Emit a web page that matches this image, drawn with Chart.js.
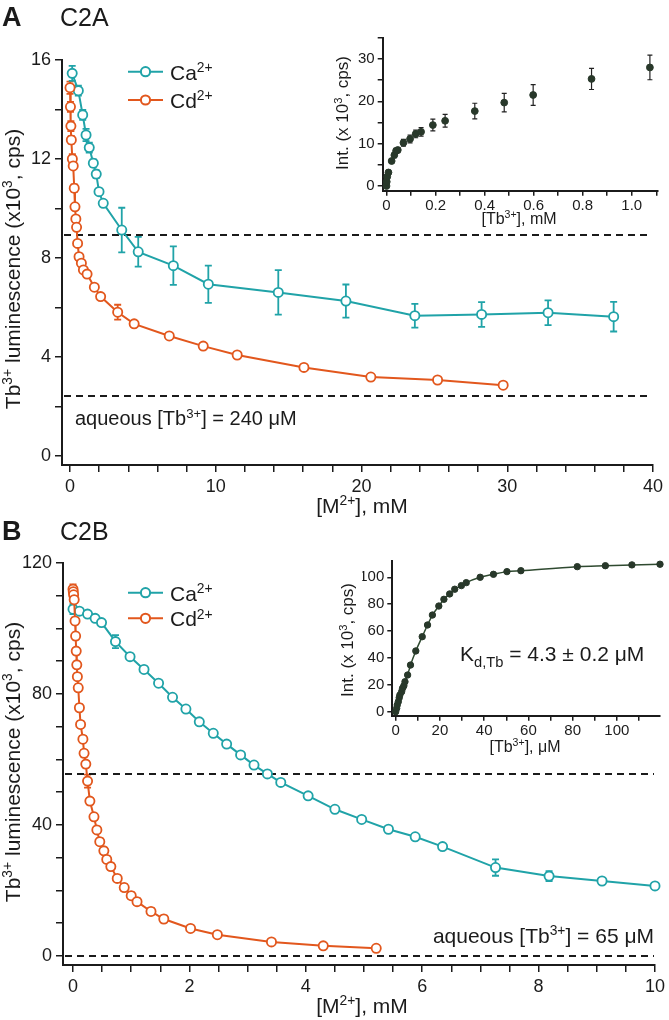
<!DOCTYPE html>
<html><head><meta charset="utf-8">
<script src="https://cdn.jsdelivr.net/npm/chart.js@4.4.1/dist/chart.umd.min.js"></script>
<style>
html,body{margin:0;padding:0;background:#fff;}
#wrap{position:relative;width:669px;height:1020px;overflow:hidden;background:#fff;}
canvas{position:absolute;}
</style></head><body>
<div id="wrap">
<canvas id="mainA" width="669" height="530" style="left:0;top:0"></canvas>
<canvas id="mainB" width="669" height="510" style="left:0;top:510px"></canvas>
<canvas id="insA" width="335" height="195" style="left:330px;top:25px"></canvas>
<canvas id="insB" width="325" height="200" style="left:340px;top:545px"></canvas>
</div>
<script>
// ---------------- DATA ----------------
// Panel A (C2A) main
const caA_x = [0.15, 0.57, 0.87, 1.10, 1.32, 1.60, 1.80, 1.99, 2.28, 3.55, 4.68, 7.09, 9.49, 14.29, 18.93, 23.66, 28.24, 32.8, 37.3];
const caA_y = [15.46, 14.76, 13.78, 12.97, 12.46, 11.83, 11.39, 10.68, 10.21, 9.13, 8.25, 7.69, 6.94, 6.61, 6.26, 5.67, 5.72, 5.79, 5.63];
const caA_err = [0.3, 0.2, 0.2, 0.25, 0.2, 0.15, 0.15, 0.1, 0.1, 0.9, 0.6, 0.78, 0.75, 0.9, 0.67, 0.48, 0.5, 0.5, 0.6];
const cdA_x = [0.0, 0.03, 0.06, 0.09, 0.16, 0.22, 0.29, 0.34, 0.40, 0.45, 0.52, 0.62, 0.78, 0.92, 1.17, 1.67, 2.10, 3.27, 4.40, 6.81, 9.14, 11.47, 16.05, 20.64, 25.22, 29.72];
const cdA_y = [14.88, 14.11, 13.33, 12.77, 12.0, 11.72, 10.82, 10.07, 9.58, 9.24, 8.59, 8.05, 7.79, 7.52, 7.35, 6.82, 6.44, 5.81, 5.34, 4.85, 4.44, 4.08, 3.58, 3.19, 3.07, 2.86];
const cdA_err = [0.25, 0.2, 0.2, 0.15, 0.2, 0.1, 0.15, 0.1, 0.1, 0.1, 0.1, 0.1, 0.1, 0.1, 0.1, 0.1, 0.1, 0.3, 0.1, 0.05, 0.05, 0.05, 0.05, 0.05, 0.05, 0.05];
const dashA = [8.93, 2.44];
// Panel A inset
const tbA_x = [0, 0.001, 0.003, 0.008, 0.021, 0.032, 0.039, 0.046, 0.069, 0.096, 0.119, 0.141, 0.189, 0.239, 0.36, 0.48, 0.598, 0.836, 1.074];
const tbA_y = [0, 1.0, 2.2, 3.2, 5.9, 7.3, 8.3, 8.5, 10.2, 11.1, 12.3, 12.8, 14.4, 15.4, 17.7, 19.7, 21.5, 25.3, 28.0];
const tbA_err = [0.3, 0.3, 0.3, 0.4, 0.5, 0.6, 0.6, 0.6, 0.8, 0.9, 0.9, 1.0, 1.4, 1.5, 1.85, 2.2, 2.45, 2.5, 2.9];
// Panel B (C2B) main
const caB_x = [0.0, 0.11, 0.25, 0.38, 0.49, 0.73, 0.98, 1.22, 1.47, 1.71, 1.94, 2.17, 2.41, 2.64, 2.88, 3.11, 3.34, 3.57, 4.04, 4.50, 4.96, 5.42, 5.88, 6.35, 7.26, 8.18, 9.09, 10.0];
const caB_y = [105.9, 105.3, 104.4, 103.1, 101.8, 96.0, 91.4, 87.5, 83.3, 79.0, 75.4, 71.5, 68.0, 64.7, 61.4, 58.3, 55.6, 53.0, 48.9, 44.8, 41.7, 38.7, 36.4, 33.4, 27.0, 24.4, 22.9, 21.4];
const caB_err = [1.5, 0.5, 0.5, 0.5, 0.5, 2.0, 0.5, 0.5, 0.5, 0.5, 0.5, 0.5, 0.5, 0.5, 0.5, 0.5, 0.5, 0.5, 0.5, 0.5, 0.5, 0.5, 0.5, 0.5, 2.5, 1.5, 0.5, 0.5];
const cdB_x = [0.0, 0.005, 0.01, 0.02, 0.035, 0.045, 0.055, 0.065, 0.075, 0.09, 0.11, 0.13, 0.17, 0.19, 0.22, 0.25, 0.29, 0.36, 0.41, 0.46, 0.53, 0.58, 0.65, 0.76, 0.88, 1.0, 1.10, 1.34, 1.56, 2.02, 2.48, 3.41, 4.30, 5.21];
const cdB_y = [112.0, 111.2, 110.3, 108.8, 102.3, 97.7, 93.1, 88.9, 85.3, 81.9, 75.8, 70.7, 66.2, 61.9, 58.6, 53.4, 47.3, 42.5, 38.5, 34.9, 32.1, 29.5, 27.3, 23.7, 20.9, 18.4, 16.6, 13.6, 11.3, 8.4, 6.5, 4.3, 3.1, 2.35];
const cdB_err = [1.5, 1, 1, 1, 1, 1, 1, 1, 1, 1, 1, 1, 1, 1, 1, 2, 1, 1, 1, 1, 1, 1, 1, 1, 1, 1, 1, 1, 1, 0.5, 0.5, 0.5, 0.5, 0.5];
const dashB = [55.6, 0];
// Panel B inset
const tbB_x = [0, 0.45, 0.7, 1.2, 1.6, 1.9, 2.7, 3.1, 3.7, 4.2, 5.4, 6.7, 9.1, 12.0, 14.4, 16.6, 19.5, 21.8, 24.4, 26.7, 29.7, 31.9, 38.2, 44.2, 50.3, 56.6, 82.1, 94.8, 106.8, 119.5];
const tbB_y = [0, 2.5, 5, 7.5, 10.4, 12.4, 14.9, 17.4, 19.3, 22.3, 27.3, 34.7, 45.2, 55.8, 64.5, 71.9, 78.6, 83.6, 87.6, 91.1, 93.8, 96.0, 100, 102.2, 104.2, 104.9, 107.9, 108.6, 109.2, 109.7];

// Tick values and labelled ticks
const ticksA_x = [0,2,4,6,8,10,12,14,16,18,20,22,24,26,28,30,32,34,36,38,40];
const labelsA_x = [0,10,20,30,40];
const ticksA_y = [0,2,4,6,8,10,12,14,16];
const labelsA_y = [0,4,8,12,16];
const ticksB_x = [0,0.5,1,1.5,2,2.5,3,3.5,4,4.5,5,5.5,6,6.5,7,7.5,8,8.5,9,9.5,10];
const labelsB_x = [0,2,4,6,8,10];
const ticksB_y = [0,10,20,30,40,50,60,70,80,90,100,110,120];
const labelsB_y = [0,40,80,120];
const ticksIA_x = [0,0.1,0.2,0.3,0.4,0.5,0.6,0.7,0.8,0.9,1.0,1.1];
const labelsIA_x = [0,0.2,0.4,0.6,0.8,1.0];
const ticksIA_y = [0,5,10,15,20,25,30,35];
const labelsIA_y = [0,10,20,30];
const ticksIB_x = [0,10,20,30,40,50,60,70,80,90,100,110];
const labelsIB_x = [0,20,40,60,80,100];
const ticksIB_y = [0,20,40,60,80,100];
const labelsIB_y = [0,20,40,60,80,100];

// ---------------- STYLE ----------------
const FONT = '"Liberation Sans", Arial, Helvetica, sans-serif';
const TEAL = '#20a3a8';
const ORANGE = '#e2571d';
const INK = '#1b1b1b';
const DOT = '#28382a';

function pts(xs, ys) { return xs.map((x, i) => ({x: x, y: ys[i]})); }

function drawRich(ctx, x, y, parts, size, align, rot, bold, color) {
  ctx.save();
  ctx.translate(x, y);
  if (rot) ctx.rotate(rot);
  ctx.fillStyle = color || INK;
  ctx.textBaseline = 'alphabetic';
  ctx.textAlign = 'left';
  const segs = parts.map(p => {
    const t = p[0], m = p[1] || '';
    const fs = m === 'sup' ? size * 0.66 : (m === 'sub' ? size * 0.7 : size);
    return {t, m, fs};
  });
  let total = 0;
  segs.forEach(s => { ctx.font = (bold ? 'bold ' : '') + s.fs + 'px ' + FONT; s.w = ctx.measureText(s.t).width; total += s.w; });
  let cx = align === 'center' ? -total / 2 : (align === 'right' ? -total : 0);
  segs.forEach(s => {
    ctx.font = (bold ? 'bold ' : '') + s.fs + 'px ' + FONT;
    const dy = s.m === 'sup' ? -size * 0.37 : (s.m === 'sub' ? size * 0.27 : 0);
    ctx.fillText(s.t, cx, dy);
    cx += s.w;
  });
  ctx.restore();
}

const errPlugin = {
  id: 'errbars',
  beforeDatasetsDraw(chart) {
    const ctx = chart.ctx, xs = chart.scales.x, ys = chart.scales.y;
    chart.data.datasets.forEach(ds => {
      if (!ds.errs) return;
      ctx.save();
      ctx.strokeStyle = ds.errColor || ds.borderColor;
      ctx.lineWidth = ds.errWidth || 1.5;
      const c = ds.capW || 3;
      ds.data.forEach((p, j) => {
        const e = ds.errs[j]; if (!e) return;
        const px = xs.getPixelForValue(p.x);
        const y1 = ys.getPixelForValue(p.y + e), y2 = ys.getPixelForValue(p.y - e);
        ctx.beginPath();
        ctx.moveTo(px, y1); ctx.lineTo(px, y2);
        ctx.moveTo(px - c, y1); ctx.lineTo(px + c, y1);
        ctx.moveTo(px - c, y2); ctx.lineTo(px + c, y2);
        ctx.stroke();
      });
      ctx.restore();
    });
  }
};

const decorPlugin = {
  id: 'decor',
  beforeDatasetsDraw(chart, args, o) {
    if (!o.dashes) return;
    const ctx = chart.ctx, ys = chart.scales.y, ca = chart.chartArea;
    ctx.save();
    ctx.strokeStyle = INK; ctx.lineWidth = 2; ctx.setLineDash([7, 5]);
    o.dashes.forEach(v => {
      const py = Math.round(ys.getPixelForValue(v));
      ctx.beginPath(); ctx.moveTo(ca.left + 2, py); ctx.lineTo(ca.right - 1, py); ctx.stroke();
    });
    ctx.restore();
  },
  afterDraw(chart, args, o) {
    const ctx = chart.ctx, oy = o.oy || 0, ox = o.ox || 0;
    (o.legend || []).forEach(l => {
      const y = l.y - oy;
      ctx.save();
      ctx.strokeStyle = l.color; ctx.lineWidth = 2;
      ctx.beginPath(); ctx.moveTo(128 - ox, y); ctx.lineTo(163 - ox, y); ctx.stroke();
      ctx.beginPath(); ctx.arc(145.5 - ox, y, 4.6, 0, Math.PI * 2);
      ctx.fillStyle = '#fff'; ctx.fill(); ctx.stroke();
      ctx.restore();
      drawRich(ctx, 170 - ox, y + 8, l.parts, 21, 'left');
    });
    (o.texts || []).forEach(t => {
      drawRich(ctx, t.x - ox, t.y - oy, t.parts, t.size, t.align || 'left', t.rot || 0, t.bold);
    });
  }
};

function scale(pos, min, max, tickVals, labelVals, fmt, fontSize, tickLen, fit, pad) {
  return {
    type: 'linear', position: pos, min: min, max: max,
    afterBuildTicks: s => { s.ticks = tickVals.map(v => ({value: v})); },
    afterFit: s => { if (pos === 'left') s.width = fit; else s.height = fit; },
    border: {display: true, color: INK, width: 2},
    grid: {drawOnChartArea: false, drawTicks: true, tickLength: tickLen, color: INK, lineWidth: 1.5},
    ticks: {
      color: INK, font: {family: FONT, size: fontSize}, padding: pad, autoSkip: false, maxRotation: 0, minRotation: 0,
      callback: v => labelVals.some(l => Math.abs(l - v) < 1e-9) ? fmt(v) : ''
    }
  };
}
const plain = v => String(v);
const dec1 = v => (Math.abs(v) < 1e-9 ? '0' : v.toFixed(1));

function mainSet(label, xs, ys, errs, color) {
  return {
    label: label, data: pts(xs, ys), errs: errs, showLine: true, clip: false,
    borderColor: color, borderWidth: 2, backgroundColor: color,
    pointRadius: 4.6, pointBorderWidth: 1.8, pointBackgroundColor: '#fff', pointBorderColor: color,
    errColor: color, errWidth: 1.8, capW: 3.5
  };
}

const common = {responsive: false, animation: false, events: []};

const H = Math.PI / -2;

// Main A
new Chart(document.getElementById('mainA'), {
  type: 'scatter',
  data: {datasets: [mainSet('Cd2+', cdA_x, cdA_y, cdA_err, ORANGE), mainSet('Ca2+', caA_x, caA_y, caA_err, TEAL)]},
  options: Object.assign({}, common, {
    layout: {padding: {left: 17, right: 16, top: 60, bottom: 25}},
    scales: {
      x: scale('bottom', -0.55, 40, ticksA_x, labelsA_x, plain, 18, 7, 40, 4),
      y: scale('left', -0.364, 16, ticksA_y, labelsA_y, plain, 18, 7, 45, 4)
    },
    plugins: {
      legend: {display: false}, tooltip: {enabled: false},
      decor: {
        oy: 0, dashes: dashA,
        legend: [{y: 71.7, color: TEAL, parts: [['Ca'], ['2+', 'sup']]}, {y: 100, color: ORANGE, parts: [['Cd'], ['2+', 'sup']]}],
        texts: [
          {x: 2, y: 26, parts: [['A']], size: 27, bold: true},
          {x: 60, y: 26, parts: [['C2A']], size: 25},
          {x: 20, y: 269, parts: [['Tb'], ['3+', 'sup'], [' luminescence (x10'], ['3', 'sup'], [', cps)']], size: 21, align: 'center', rot: H},
          {x: 362, y: 513, parts: [['[M'], ['2+', 'sup'], ['], mM']], size: 21, align: 'center'},
          {x: 75, y: 425, parts: [['aqueous [Tb'], ['3+', 'sup'], ['] = 240 \u03bcM']], size: 20},
          {x: 348, y: 113, parts: [['Int. (x 10'], ['3', 'sup'], [', cps)']], size: 17, align: 'center', rot: H},
          {x: 519, y: 224, parts: [['[Tb'], ['3+', 'sup'], ['], mM']], size: 16, align: 'center'}
        ]
      }
    }
  }),
  plugins: [errPlugin, decorPlugin]
});

// Main B
new Chart(document.getElementById('mainB'), {
  type: 'scatter',
  data: {datasets: [mainSet('Cd2+', cdB_x, cdB_y, cdB_err, ORANGE), mainSet('Ca2+', caB_x, caB_y, caB_err, TEAL)]},
  options: Object.assign({}, common, {
    layout: {padding: {left: 18, right: 14, top: 53, bottom: 15}},
    scales: {
      x: scale('bottom', -0.172, 10, ticksB_x, labelsB_x, plain, 18, 7, 40, 4),
      y: scale('left', -2.75, 120, ticksB_y, labelsB_y, plain, 18, 7, 45, 4)
    },
    plugins: {
      legend: {display: false}, tooltip: {enabled: false},
      decor: {
        oy: 510, dashes: dashB,
        legend: [{y: 592.7, color: TEAL, parts: [['Ca'], ['2+', 'sup']]}, {y: 618.3, color: ORANGE, parts: [['Cd'], ['2+', 'sup']]}],
        texts: [
          {x: 2, y: 540, parts: [['B']], size: 27, bold: true},
          {x: 60, y: 540, parts: [['C2B']], size: 25},
          {x: 20, y: 762, parts: [['Tb'], ['3+', 'sup'], [' luminescence (x10'], ['3', 'sup'], [', cps)']], size: 21, align: 'center', rot: H},
          {x: 362, y: 1013, parts: [['[M'], ['2+', 'sup'], ['], mM']], size: 21, align: 'center'},
          {x: 654, y: 943, parts: [['aqueous [Tb'], ['3+', 'sup'], ['] = 65 \u03bcM']], size: 21, align: 'right'},
          {x: 353, y: 640, parts: [['Int. (x 10'], ['3', 'sup'], [', cps)']], size: 17, align: 'center', rot: H},
          {x: 525, y: 752, parts: [['[Tb'], ['3+', 'sup'], ['], \u03bcM']], size: 16, align: 'center'},
          {x: 460, y: 661, parts: [['K'], ['d,Tb', 'sub'], [' = 4.3 \u00b1 0.2 \u03bcM']], size: 21}
        ]
      }
    }
  }),
  plugins: [errPlugin, decorPlugin]
});

// Inset A
new Chart(document.getElementById('insA'), {
  type: 'scatter',
  data: {datasets: [{
    label: 'Tb', data: pts(tbA_x, tbA_y), errs: tbA_err, showLine: false, clip: false,
    pointRadius: 3.4, backgroundColor: DOT, borderColor: DOT, pointBorderWidth: 1,
    errColor: '#222', errWidth: 1.2, capW: 2.5
  }]},
  options: Object.assign({}, common, {
    layout: {padding: {left: 22.7, right: 7, top: 12.7, bottom: 9.3}},
    scales: {
      x: scale('bottom', -0.0155, 1.107, ticksIA_x, labelsIA_x, dec1, 15, 5, 20, 1),
      y: scale('left', -1.11, 35.03, ticksIA_y, labelsIA_y, plain, 15, 5, 30, 3)
    },
    plugins: {legend: {display: false}, tooltip: {enabled: false}}
  }),
  plugins: [errPlugin]
});

// Inset B
new Chart(document.getElementById('insB'), {
  type: 'scatter',
  data: {datasets: [{
    label: 'Tb', data: pts(tbB_x, tbB_y), showLine: true, cubicInterpolationMode: 'monotone', clip: false,
    borderColor: '#2f4a30', borderWidth: 1.5,
    pointRadius: 3.2, pointBackgroundColor: DOT, pointBorderColor: DOT, pointBorderWidth: 1
  }]},
  options: Object.assign({}, common, {
    layout: {padding: {left: 22.3, right: 3.3, top: 16, bottom: 9.3}},
    scales: {
      x: scale('bottom', -1.53, 119.5, ticksIB_x, labelsIB_x, plain, 15, 5, 20, 1),
      y: scale('left', -2.98, 112.1, ticksIB_y, labelsIB_y, plain, 15, 5, 30, 3)
    },
    plugins: {legend: {display: false}, tooltip: {enabled: false}}
  }),
  plugins: []
});
</script>
</body></html>
